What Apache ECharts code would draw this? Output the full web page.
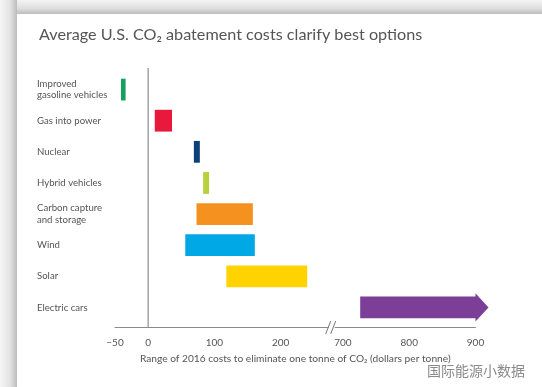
<!DOCTYPE html>
<html>
<head>
<meta charset="utf-8">
<script src="https://cdn.jsdelivr.net/npm/echarts@6/dist/echarts.min.js"></script>
<style>
html,body{margin:0;padding:0;background:#fff;}
#c{width:542px;height:387px;}
</style>
</head>
<body>
<div id="c"></div>
<script>
// ---- data ----
const categories = ['Improved\ngasoline vehicles', 'Gas into power', 'Nuclear', 'Hybrid vehicles',
  'Carbon capture\nand storage', 'Wind', 'Solar', 'Electric cars'];
const lowCost  = [-41, 10, 69, 83, 73, 56, 118, 726];
const highCost = [-34, 36, 78, 92, 158, 161, 240, 900];
const openEnded = [false, false, false, false, false, false, false, true];
const barColors = ['#17a05d', '#e8193c', '#0d3f7a', '#b8cf3e', '#f5921f', '#00a9e6', '#fed300', '#7c3f98'];
const tickValues = [-50, 0, 100, 200, 700, 800, 900];
const tickText = ['\u221250', '0', '100', '200', '700', '800', '900'];
const breakValue = 277;          // where the axis break is drawn (axis units)

// ---- broken axis transform ----
const BREAK_AT = 250, BREAK_OFFSET = 406;
const toAxis = v => v > BREAK_AT ? v - BREAK_OFFSET : v;

const chart = echarts.init(document.getElementById('c'), null, {renderer: 'canvas'});
const FONT = 'Lato, "Open Sans", "Noto Sans", "DejaVu Sans", sans-serif';

const barData = categories.map((c, i) => ({
  value: [toAxis(lowCost[i]), toAxis(highCost[i]), i],
  itemStyle: {color: barColors[i]}
}));

const option = {
  backgroundColor: '#ffffff',
  animation: false,
  graphic: [
    {type: 'rect', shape: {x: 0, y: 0, width: 542, height: 14}, silent: true, z: -10,
      style: {fill: new echarts.graphic.LinearGradient(0, 0, 0, 1, [
        {offset: 0, color: '#f4f4f4'}, {offset: 0.6, color: '#dedede'}, {offset: 1, color: '#bdbdbd'}])}},
    {type: 'rect', shape: {x: 0, y: 0, width: 17, height: 387}, silent: true, z: -10,
      style: {fill: new echarts.graphic.LinearGradient(0, 0, 1, 0, [
        {offset: 0, color: '#f6f6f6'}, {offset: 0.6, color: '#e2e2e2'}, {offset: 1, color: '#bcbcbc'}])}},
    {type: 'text', left: 427, top: 364, silent: true,
      style: {text: '国际能源小数据', fill: '#8a8a8a', font: '14px "Noto Sans CJK SC", sans-serif'}}
  ],
  title: {
    text: 'Average U.S. CO\u2082 abatement costs clarify best options',
    left: 34, top: 22,
    textStyle: {fontFamily: FONT, fontSize: 16.2, fontWeight: 'normal', color: '#555'}
  },
  grid: {left: 115, right: 66.5, top: 74, bottom: 64, containLabel: false},
  xAxis: {
    type: 'value', min: toAxis(-50), max: toAxis(900), offset: 4,
    axisLine: {show: true, onZero: false, lineStyle: {color: '#8a8a8a', width: 1}},
    axisTick: {show: false},
    splitLine: {show: false},
    axisLabel: {
      customValues: tickValues.map(toAxis),
      formatter: v => { const k = tickValues.map(toAxis).indexOf(v); return k >= 0 ? tickText[k] : ''; },
      color: '#555', fontFamily: FONT, fontSize: 10, margin: 11
    },
    name: 'Range of 2016 costs to eliminate one tonne of CO\u2082 (dollars per tonne)',
    nameLocation: 'middle', nameGap: 27,
    nameTextStyle: {color: '#555', fontFamily: FONT, fontSize: 10.2}
  },
  yAxis: {
    type: 'category', inverse: true, data: categories,
    axisLine: {show: false}, axisTick: {show: false}, splitLine: {show: false},
    axisLabel: {align: 'left', margin: 78, color: '#555', fontFamily: FONT, fontSize: 9.6, lineHeight: 11.5}
  },
  series: [
    {
      type: 'custom', name: 'frame', silent: true, clip: false, z: 1,
      data: [[0, 0]],
      encode: {x: 0, y: 1},
      renderItem: (params, api) => {
        const cs = params.coordSys;
        const x0 = api.coord([0, 0])[0];
        const xb = api.coord([breakValue, 0])[0];
        const ya = cs.y + cs.height + 4;
        const stroke = {stroke: '#777', lineWidth: 1};
        return {type: 'group', children: [
          {type: 'line', shape: {x1: x0, y1: cs.y - 6, x2: x0, y2: ya}, style: stroke},
          {type: 'rect', shape: {x: xb - 3, y: ya - 2, width: 6, height: 4}, style: {fill: '#fff'}},
          {type: 'line', shape: {x1: xb - 6, y1: ya + 7, x2: xb - 1, y2: ya - 6}, style: stroke},
          {type: 'line', shape: {x1: xb - 1, y1: ya + 7, x2: xb + 4, y2: ya - 6}, style: stroke}
        ]};
      }
    },
    {
      type: 'custom', name: 'cost range', clip: false, z: 2,
      data: barData,
      encode: {x: [0, 1], y: 2},
      renderItem: (params, api) => {
        const i = api.value(2);
        const p0 = api.coord([api.value(0), i]);
        const p1 = api.coord([api.value(1), i]);
        const h = api.size([0, 1])[1] * 0.7;
        const fill = barColors[i];
        if (!openEnded[i]) {
          return {type: 'rect', shape: {x: p0[0], y: p0[1] - h / 2, width: p1[0] - p0[0], height: h},
            style: {fill: fill}};
        }
        const H = h * 1.3, head = 13, y = p0[1];
        return {type: 'polygon', shape: {points: [
          [p0[0], y - h / 2], [p1[0], y - h / 2], [p1[0], y - H / 2], [p1[0] + head, y],
          [p1[0], y + H / 2], [p1[0], y + h / 2], [p0[0], y + h / 2]]},
          style: {fill: fill}};
      }
    }
  ]
};
chart.setOption(option);
</script>
</body>
</html>
